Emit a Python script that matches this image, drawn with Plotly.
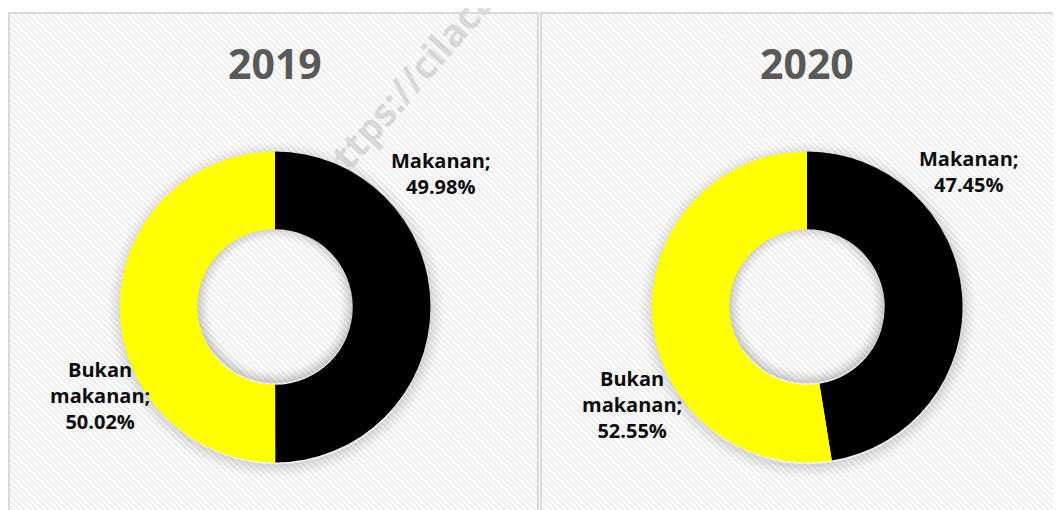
import math
import plotly.graph_objects as go

# ---------------- data ----------------
years = ["2019", "2020"]
categories = ["Makanan", "Bukan makanan"]
label_lines = [["Makanan;"], ["Bukan", "makanan;"]]
values_2019 = [49.98, 50.02]
values_2020 = [47.45, 52.55]
series = [values_2019, values_2020]
slice_colors = ["#000000", "#FFFF00"]
watermark = "https://cilacapkab.bps.go.id"

# ---------------- layout constants (pixels of the window) ----------------
WIN_W, WIN_H = 1061, 510
OFF = 8                      # default page margin of the html body
W, H = WIN_W - OFF, WIN_H - OFF
centers = [(275, 307), (807, 307)]
R_OUT = 155.5
HOLE = 0.5
panels = [(9, 13, 538, 530), (541, 13, 1080, 530)]
label_pos = [[(441, 174), (100, 395)], [(969, 172), (632, 404)]]
title_pos = [(275, 63), (807, 63)]


def px(x):
    return (x - OFF) / W


def py(y):
    return 1 - (y - OFF) / H


fig = go.Figure()
shapes = []
annotations = []

# panel background with diagonal stripes
for (x0, y0, x1, y1) in panels:
    shapes.append(dict(type="rect", xref="paper", yref="paper",
                       x0=px(x0), x1=px(x1), y0=py(y1), y1=py(y0),
                       fillcolor="#ffffff", line=dict(width=0), layer="below"))
    segs = []
    step = 6.0
    c = (x0 - y1)
    while c <= x1 - y0:
        xa = max(x0, y0 + c)
        xb = min(x1, y1 + c)
        if xb > xa:
            segs.append(f"M{px(xa):.5f},{py(xa - c):.5f}L{px(xb):.5f},{py(xb - c):.5f}")
        c += step
    shapes.append(dict(type="path", xref="paper", yref="paper", path="".join(segs),
                       line=dict(color="#eeeeee", width=2.2), layer="below"))

# soft shadows around each donut
for (cx, cy) in centers:
    ox, oy = 1, 3
    N = 18
    for k in range(1, N + 1):
        r = R_OUT + k - 2
        a = 0.10 * (1 - k / N) ** 1.6
        shapes.append(dict(type="circle", xref="paper", yref="paper",
                           x0=px(cx + ox - r), x1=px(cx + ox + r),
                           y0=py(cy + oy + r), y1=py(cy + oy - r),
                           line=dict(color=f"rgba(0,0,0,{a:.4f})", width=1.6),
                           layer="below"))
    rin = R_OUT * HOLE
    for k in range(0, 14):
        r = rin - k
        a = 0.13 * (1 - k / 14) ** 1.6
        shapes.append(dict(type="circle", xref="paper", yref="paper",
                           x0=px(cx - r), x1=px(cx + r),
                           y0=py(cy - 2 + r), y1=py(cy - 2 - r),
                           line=dict(color=f"rgba(0,0,0,{a:.4f})", width=1.6),
                           layer="below"))

# watermark (drawn below the donuts)
sx, sy = 346, 202
L = 600
ang = math.radians(49)
ex, ey = sx + L * math.cos(ang), sy - L * math.sin(ang)
shapes.append(dict(type="line", xref="paper", yref="paper",
                   x0=px(sx), y0=py(sy), x1=px(ex), y1=py(ey),
                   line=dict(color="rgba(0,0,0,0)", width=0), layer="below",
                   label=dict(text=watermark, textposition="start",
                              font=dict(family="Open Sans", size=38, weight="bold",
                                        color="rgba(150,150,150,0.32)"))))

# donuts
for i, (cx, cy) in enumerate(centers):
    fig.add_trace(go.Pie(
        labels=categories, values=series[i], hole=HOLE, sort=False,
        direction="clockwise", rotation=0,
        marker=dict(colors=slice_colors, line=dict(width=0)),
        textinfo="none", hoverinfo="label+percent", showlegend=False,
        domain=dict(x=[px(cx - R_OUT), px(cx + R_OUT)],
                    y=[py(cy + R_OUT), py(cy - R_OUT)]),
    ))
    tx, ty = title_pos[i]
    annotations.append(dict(text=f"<b>{years[i]}</b>", x=px(tx), y=py(ty),
                            xref="paper", yref="paper", showarrow=False,
                            xanchor="center", yanchor="middle",
                            font=dict(family="Open Sans", size=41, color="#595959")))
    for j, cat in enumerate(categories):
        lx, ly = label_pos[i][j]
        txt = "<br>".join(label_lines[j] + [f"{series[i][j]:.2f}%"])
        annotations.append(dict(text=f"<b>{txt}</b>", x=px(lx), y=py(ly),
                                xref="paper", yref="paper", showarrow=False,
                                xanchor="center", yanchor="middle", align="center",
                                font=dict(family="Open Sans", size=20, color="#0d0d0d")))

# panel borders (on top)
for (x0, y0, x1, y1) in panels:
    shapes.append(dict(type="rect", xref="paper", yref="paper",
                       x0=px(x0), x1=px(x1), y0=py(y1), y1=py(y0),
                       fillcolor="rgba(0,0,0,0)", line=dict(color="#d9d9d9", width=2),
                       layer="above"))

fig.update_layout(width=W, height=H, margin=dict(l=0, r=0, t=0, b=0),
                  paper_bgcolor="#ffffff", plot_bgcolor="#ffffff",
                  shapes=shapes, annotations=annotations)

fig.write_html("out.html")
